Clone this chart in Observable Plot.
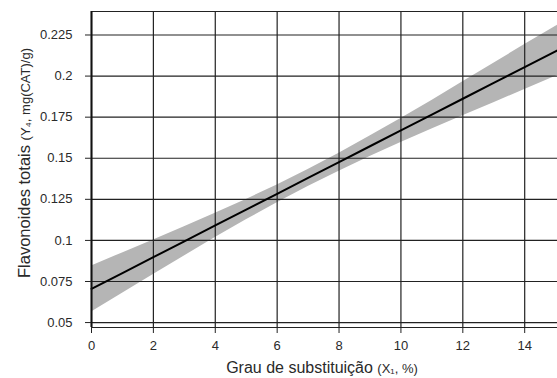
<!DOCTYPE html>
<html><head><meta charset="utf-8">
<script src="https://cdn.jsdelivr.net/npm/d3@7"></script>
<script src="https://cdn.jsdelivr.net/npm/@observablehq/plot@0.6"></script>
<style>body{margin:0;background:#fff;} svg{display:block;}</style>
</head><body><div id="chart"></div>
<script>
const xs    = [0, 1, 2, 3, 4, 5, 6, 7, 8, 9, 10, 11, 12, 13, 14, 15.06];
const fit   = [0.0705, 0.0801, 0.0898, 0.0994, 0.1091, 0.1187, 0.1283, 0.1380, 0.1476, 0.1573, 0.1669, 0.1765, 0.1862, 0.1958, 0.2055, 0.2157];
const upper = [0.0845, 0.0924, 0.1003, 0.1083, 0.1165, 0.1249, 0.1337, 0.1432, 0.1531, 0.1635, 0.1742, 0.1852, 0.1965, 0.2078, 0.2192, 0.2310];
const lower = [0.0565, 0.0678, 0.0793, 0.0905, 0.1017, 0.1125, 0.1229, 0.1328, 0.1421, 0.1511, 0.1596, 0.1678, 0.1759, 0.1838, 0.1918, 0.2004];
const xTicks = [0, 2, 4, 6, 8, 10, 12, 14];
const yTicks = [0.05, 0.075, 0.1, 0.125, 0.15, 0.175, 0.2, 0.225];
const yTickLabels = ["0.05", "0.075", "0.1", "0.125", "0.15", "0.175", "0.2", "0.225"];

const data = xs.map((x, i) => ({x, fit: fit[i], lo: lower[i], hi: upper[i]}));
const FONT = "Liberation Sans, Arial, sans-serif";

const plot = Plot.plot({
  width: 557, height: 378,
  marginLeft: 91, marginRight: 0, marginTop: 11, marginBottom: 51,
  style: {fontFamily: FONT, fontSize: "13px", color: "#2a2a2a", background: "#fff"},
  x: {domain: [0, 15.06], label: null},
  y: {domain: [0.047, 0.2393], label: null},
  marks: [
    Plot.areaY(data, {x: "x", y1: "lo", y2: "hi", fill: "#b5b5b5"}),
    Plot.gridX(xTicks, {stroke: "#222", strokeOpacity: 1, strokeWidth: 1.2}),
    Plot.gridY(yTicks, {stroke: "#222", strokeOpacity: 1, strokeWidth: 1.2}),
    Plot.lineY(data, {x: "x", y: "fit", stroke: "#000", strokeWidth: 2}),
    Plot.ruleY([0.2393], {stroke: "#222", strokeWidth: 1.2}),
    Plot.ruleY([0.047], {stroke: "#222", strokeWidth: 1.2}),
    Plot.ruleX([0], {stroke: "#111", strokeWidth: 2}),
    Plot.axisX({ticks: xTicks, tickSize: 6, tickPadding: 7, stroke: "#222", fill: "#2a2a2a", fontSize: 13, label: null}),
    Plot.axisY({ticks: yTicks, tickSize: 6, tickPadding: 13, stroke: "#222", fill: "#2a2a2a", fontSize: 13, label: null,
      tickFormat: d => yTickLabels[yTicks.indexOf(d)] ?? ""})
  ]
});

const svg = d3.select(plot);
const xl = svg.append("text")
  .attr("x", 322).attr("y", 373).attr("text-anchor", "middle")
  .attr("fill", "#2a2a2a").style("font-family", FONT);
xl.append("tspan").style("font-size", "16px").text("Grau de substituição ");
xl.append("tspan").style("font-size", "13px").text("(X₁, %)");

const yl = svg.append("text")
  .attr("transform", "translate(30,163) rotate(-90)").attr("text-anchor", "middle")
  .attr("fill", "#2a2a2a").style("font-family", FONT);
yl.append("tspan").style("font-size", "16.5px").text("Flavonoides totais ");
yl.append("tspan").style("font-size", "13px").text("(Y₄, mg(CAT)/g)");

document.getElementById("chart").appendChild(plot);
</script>
</body></html>
